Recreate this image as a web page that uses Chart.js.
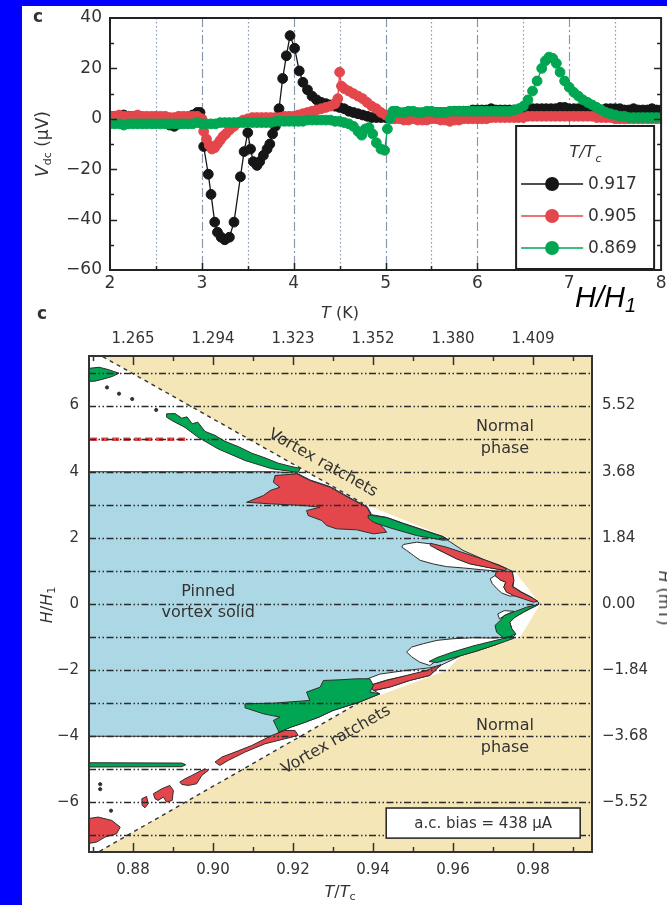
<!DOCTYPE html>
<html>
<head>
<meta charset="utf-8">
<title>Vortex ratchets</title>
<script src="https://cdn.jsdelivr.net/npm/chart.js@4.4.1/dist/chart.umd.min.js"></script>
<style>
  html, body { margin: 0; padding: 0; }
  body { width: 667px; height: 905px; background: #0000ff; position: relative; overflow: hidden; font-family: "DejaVu Sans", sans-serif; }
  #sheet { position: absolute; left: 22px; top: 6px; width: 645px; height: 899px; background: #fff; }
  canvas { position: absolute; left: 22px; }
  #volt { top: 6px; }
  #phase { top: 296px; }
  .t { position: absolute; transform: translate(-50%, -50%); white-space: nowrap; color: #333; font-size: 16px; line-height: 1; }
  .up { transform: translate(-50%, -50%) rotate(-90deg); }
  .down { transform: translate(-50%, -50%) rotate(90deg); }
  .panel { font-weight: bold; font-size: 17px; }
  sub { font-size: 11px; vertical-align: -3px; line-height: 0; }
  #hh { position: absolute; left: 575px; top: 283px; font: italic 29px "Liberation Sans", Arial, sans-serif; color: #000; line-height: 1; white-space: nowrap; }
  #hh span { font-size: 20px; position: relative; top: 5px; }
</style>
</head>
<body>
<div id="sheet"></div>
<canvas id="volt" width="645" height="290"></canvas>
<canvas id="phase" width="645" height="609"></canvas>

<div class="t panel" style="left:38px;top:16px">c</div>
<div class="t panel" style="left:42px;top:313px">c</div>
<div class="t up" style="left:42px;top:144px;font-size:17px"><i>V</i><sub>dc</sub> (μV)</div>
<div id="hh">H/H<span>1</span></div>
<div class="t" style="left:340px;top:313px"><i>T</i> (K)</div>
<div class="t" style="left:340px;top:892px"><i>T</i>/<i>T</i><sub>c</sub></div>
<div class="t up" style="left:47px;top:605px"><i>H</i>/<i>H</i><sub>1</sub></div>
<div class="t down" style="left:664px;top:598px"><i>H</i> (mT)</div>

<script>
const FONT = '"DejaVu Sans", sans-serif';

// ---- top panel: V_dc against H/H1 ----
const voltTicksX = [2, 3, 4, 5, 6, 7, 8];
const voltLabelsX = ['2', '3', '4', '5', '6', '7', '8'];
const voltTicksY = [-60, -40, -20, 0, 20, 40];
const voltLabelsY = ['−60', '−40', '−20', '0', '20', '40'];
const voltGridX = [2.5, 3, 3.5, 4, 4.5, 5, 5.5, 6, 6.5, 7, 7.5];
const voltMarksY = [-50, -40, -30, -20, -10, 0, 10, 20, 30];

const tBlack = [2.00,2.05,2.10,2.15,2.20,2.25,2.30,2.35,2.40,2.45,2.50,2.55,2.60,2.65,2.70,2.75,2.80,2.85,2.90,2.95,
  2.98,3.02,3.07,3.10,3.14,3.17,3.21,3.25,3.30,3.35,3.42,3.46,3.50,3.53,3.56,3.60,3.63,3.67,3.71,3.74,3.77,3.80,
  3.84,3.88,3.92,3.96,4.01,4.06,4.10,4.15,4.20,4.25,4.30,4.35,4.40,4.45,4.50,4.55,4.60,4.65,4.70,4.75,4.80,4.85,4.90,4.95,5.00,
  5.05,5.10,5.15,5.20,5.25,5.30,5.35,5.40,5.45,5.50,5.55,5.60,5.65,5.70,5.75,5.80,5.85,5.90,5.95,6.00,
  6.05,6.10,6.15,6.20,6.25,6.30,6.35,6.40,6.45,6.50,6.55,6.60,6.65,6.70,6.75,6.80,6.85,6.90,6.95,7.00,
  7.05,7.10,7.15,7.20,7.25,7.30,7.35,7.40,7.45,7.50,7.55,7.60,7.65,7.70,7.75,7.80,7.85,7.90,7.95,8.00];
const vBlack = [1,1,1,1.5,1,1,1,0.5,0.5,0,0,-0.5,-1.5,-2.5,-3,-2,-0.5,0.5,1.5,2.5,
  2.5,-11,-22,-30,-41,-45,-47,-48,-47,-41,-23,-13,-5.5,-12,-17,-18.5,-17,-14.5,-12,-10,-6,-3,
  4,16,25,33,28,19,14.5,11.5,9,7.5,6.5,6,5.5,5,4.5,4,3,2.5,2,1.5,1,0.5,0.5,0.5,0.5,
  1,1,1.5,1.5,1.5,2,2,2,2,2,2.5,2.5,2.5,2.5,3,3,3,3,3.5,3.5,
  3.5,3.5,4,3.5,3.5,3.5,3.5,3.5,3.5,3.5,4,4,4,4,4,4,4,4.5,4.5,4,
  4,4,4,4,4,4,3.5,4,4,4,4,3.5,3.5,4,3.5,3.5,3.5,4,3.5,3.5];

const tRed = [2.00,2.05,2.10,2.15,2.20,2.25,2.30,2.35,2.40,2.45,2.50,2.55,2.60,2.65,2.70,2.75,2.80,2.85,2.90,2.95,
  3.00,3.02,3.05,3.08,3.11,3.14,3.17,3.20,3.23,3.26,3.30,3.35,3.40,3.45,3.50,
  3.55,3.60,3.65,3.70,3.75,3.80,3.85,3.90,3.95,4.00,4.05,4.10,4.15,4.20,4.25,4.30,4.35,4.40,4.45,
  4.48,4.50,4.52,4.55,4.60,4.65,4.70,4.75,4.80,4.85,4.90,4.95,5.00,
  5.05,5.10,5.15,5.20,5.25,5.30,5.35,5.40,5.45,5.50,5.55,5.60,5.65,5.70,5.75,5.80,5.85,5.90,5.95,6.00,
  6.05,6.10,6.15,6.20,6.25,6.30,6.35,6.40,6.45,6.50,6.55,6.60,6.65,6.70,6.75,6.80,6.85,6.90,6.95,7.00,
  7.05,7.10,7.15,7.20,7.25,7.30,7.35,7.40,7.45,7.50,7.55,7.60,7.65,7.70,7.75,7.80,7.85,7.90,7.95,8.00];
const vRed = [1,1,1.5,1,1,1,1.5,1,1,1,1,1,1,0.5,0.5,1,1,1,1,1,
  0,-5,-8,-10.5,-12,-11.5,-10,-8.5,-7,-6,-4.5,-3,-1.5,-0.5,0,
  0.5,0.5,0.5,0.5,0.5,0.5,0.5,1,1,1,1.5,2,2.5,3,3.5,4,4.5,5,6,
  8,18.5,13,12,11,10,9,8,6.5,5,4,2.5,1.5,
  0.5,0,0,-0.5,-0.5,0,-0.5,-0.5,-0.5,0,0,-0.5,-0.5,-1,-0.5,-0.5,0,0,0,0,
  0,0,0.5,0.5,0.5,0.5,0.5,0.5,0.5,0.5,1,1,1,1,1,1,1,1,1,1,
  1,1,1,1,1,0.5,0.5,0.5,0.5,0,0,0,0,0,0,0,0,0,0,0];

const tGreen = [2.00,2.05,2.10,2.15,2.20,2.25,2.30,2.35,2.40,2.45,2.50,2.55,2.60,2.65,2.70,2.75,2.80,2.85,2.90,2.95,
  3.00,3.05,3.10,3.15,3.20,3.25,3.30,3.35,3.40,3.45,3.50,3.55,3.60,3.65,3.70,3.75,3.80,3.85,3.90,3.95,
  4.00,4.05,4.10,4.15,4.20,4.25,4.30,4.35,4.40,4.45,4.50,4.55,4.60,4.65,4.70,
  4.74,4.78,4.82,4.86,4.90,4.95,4.99,5.02,5.05,5.08,5.12,
  5.15,5.20,5.25,5.30,5.35,5.40,5.45,5.50,5.55,5.60,5.65,5.70,5.75,5.80,5.85,5.90,5.95,6.00,
  6.05,6.10,6.15,6.20,6.25,6.30,6.35,6.40,6.45,6.50,
  6.55,6.60,6.65,6.70,6.74,6.78,6.82,6.86,6.90,6.95,
  7.00,7.05,7.10,7.15,7.20,7.25,7.30,7.35,7.40,7.45,7.50,7.55,7.60,7.65,7.70,7.75,7.80,7.85,7.90,7.95,8.00];
const vGreen = [-2,-2,-2,-2.5,-2,-2,-2,-2,-2,-2,-2,-2,-2,-2,-2,-2,-2,-2,-2,-1.5,
  -2,-2,-2,-2,-1.5,-1.5,-1.5,-1.5,-1.5,-1.5,-1.5,-1.5,-1.5,-1.5,-1.5,-1.5,-1,-1,-1,-1,
  -1,-1,-1,-0.5,-0.5,-0.5,-0.5,-0.5,-0.5,-1,-1,-1.5,-2,-3,-5,
  -6.5,-4,-3.5,-6,-9.5,-12,-12.5,-4,0,3,3,
  2.5,2.5,3,3,2.5,2.5,3,3,2.5,2.5,2.5,3,3,3,3,3,3,3,
  3,3,3,3,3,3,3,3.5,4,5,
  7.5,11,15,20,23,24.5,24,22,18.5,15,
  12.5,10.5,9,7.5,6.5,5.5,4.5,3.5,2.5,2,1.5,1,1,0.5,0.5,0.5,0.5,0.5,0.5,0.5,0.5];

// ---- bottom panel: H/H1 against T/Tc ----
const ratioTicks = [0.88, 0.90, 0.92, 0.94, 0.96, 0.98];
const ratioLabels = ['0.88', '0.90', '0.92', '0.94', '0.96', '0.98'];
const kelvinLabels = ['1.265', '1.294', '1.323', '1.352', '1.380', '1.409'];
const ratioMinor = [0.87, 0.89, 0.91, 0.93, 0.95, 0.97, 0.99];
const fieldTicks = [-6, -4, -2, 0, 2, 4, 6];
const fieldLabels = ['−6', '−4', '−2', '0', '2', '4', '6'];
const mTLabels = ['−5.52', '−3.68', '−1.84', '0.00', '1.84', '3.68', '5.52'];
const phaseGridH = [-7, -6, -5, -4, -3, -2, -1, 0, 1, 2, 3, 4, 5, 6, 7];

const normalPhase = [[0.8707,7.6],[0.9960,7.6],[0.9960,-7.6],[0.8699,-7.6],[0.9222,-3.975],[0.9363,-3.0],
  [0.9585,-2.0],[0.9617,-1.6],[0.9768,-1.0],[0.9818,0],[0.9755,0.98],[0.9722,1.16],[0.9692,1.31],[0.9642,1.52],
  [0.9598,1.72],[0.9593,1.98],[0.9375,3.04]];
const pinnedSolid = [[0.8685,4.0],[0.9150,4.0],[0.9209,3.96],[0.9243,3.75],[0.9293,3.55],[0.9322,3.35],[0.9352,3.15],
  [0.9385,2.95],[0.9397,2.7],[0.9434,2.62],[0.9476,2.44],[0.9526,2.24],[0.9576,2.04],[0.9588,1.92],[0.9625,1.62],
  [0.9680,1.33],[0.9715,1.18],[0.9735,1.07],[0.9748,0.99],[0.9752,0.71],[0.9750,0.53],[0.9772,0.36],[0.9797,0.2],
  [0.9814,0.05],[0.9814,-0.02],[0.9797,-0.12],[0.9776,-0.25],[0.9755,-0.4],[0.9742,-0.55],[0.9747,-0.75],
  [0.9757,-0.92],[0.9748,-1.02],[0.9705,-1.24],[0.9660,-1.42],[0.9620,-1.56],[0.9572,-1.84],[0.9562,-1.93],
  [0.9542,-2.16],[0.9492,-2.31],[0.9442,-2.51],[0.9403,-2.62],[0.9417,-2.72],[0.9366,-2.97],[0.9300,-3.22],
  [0.9265,-3.42],[0.9220,-3.62],[0.9195,-3.72],[0.9165,-3.88],[0.9150,-4.0],[0.8685,-4.0]];

const whiteA = [[0.9476,1.80],[0.9509,1.87],[0.9543,1.82],[0.9559,1.67],[0.9584,1.52],[0.9609,1.37],[0.9642,1.22],
  [0.9692,1.10],[0.9730,1.02],[0.9715,0.99],[0.9668,1.04],[0.9626,1.09],[0.9584,1.13],[0.9551,1.21],[0.9518,1.32],
  [0.9501,1.47],[0.9484,1.62],[0.9472,1.72]];
const whiteB = [[0.9705,0.86],[0.9693,0.76],[0.9698,0.62],[0.9710,0.46],[0.9722,0.33],[0.9742,0.24],[0.9758,0.25],
  [0.9734,0.36],[0.9727,0.51],[0.9732,0.66],[0.9718,0.73]];
const whiteC = [[0.9728,-0.2],[0.9752,-0.22],[0.9730,-0.34],[0.9716,-0.45],[0.9712,-0.3]];
const whiteD = [[0.9484,-1.45],[0.9497,-1.3],[0.9526,-1.2],[0.9560,-1.1],[0.9600,-1.05],[0.9650,-1.02],[0.9700,-1.03],
  [0.9742,-1.0],[0.9700,-1.15],[0.9650,-1.3],[0.9600,-1.5],[0.9560,-1.7],[0.9542,-1.86],[0.9517,-1.76],[0.9497,-1.6]];
const whiteE = [[0.9376,-2.31],[0.9417,-2.12],[0.9476,-2.02],[0.9542,-1.93],[0.9570,-1.85],[0.9542,-2.0],[0.9492,-2.15],
  [0.9434,-2.30],[0.9392,-2.46]];

const redA = [[0.9155,3.885],[0.9209,3.936],[0.9243,3.733],[0.9293,3.531],[0.9322,3.331],[0.9352,3.129],[0.9385,2.926],
  [0.9397,2.624],[0.9426,2.304],[0.9434,2.171],[0.9401,2.122],[0.9359,2.243],[0.9309,2.273],[0.9284,2.373],
  [0.9272,2.524],[0.9238,2.675],[0.9234,2.827],[0.9268,2.926],[0.9226,2.978],[0.9143,3.029],[0.9084,3.077],
  [0.9126,3.28],[0.9143,3.431],[0.9167,3.531],[0.9151,3.682]];
const redA2 = [[0.9543,1.839],[0.9584,1.718],[0.9634,1.517],[0.9684,1.315],[0.9715,1.164],[0.9735,1.063],[0.9730,1.013],
  [0.9692,1.093],[0.9642,1.214],[0.9609,1.365],[0.9584,1.516],[0.9559,1.668],[0.9543,1.768]];
const redB = [[0.9709,0.993],[0.9748,0.993],[0.9752,0.71],[0.9748,0.529],[0.9770,0.357],[0.9795,0.206],[0.9812,0.085],
  [0.9801,0.055],[0.9776,0.156],[0.9751,0.257],[0.9734,0.357],[0.9727,0.509],[0.9732,0.66],[0.9718,0.73],[0.9705,0.861]];
const redE = [[0.9392,-2.464],[0.9434,-2.313],[0.9484,-2.161],[0.9534,-2.01],[0.9570,-1.83],[0.9562,-1.93],[0.9542,-2.161],
  [0.9492,-2.313],[0.9442,-2.514],[0.9401,-2.615]];
const redH = [[0.9005,-4.782],[0.9022,-4.63],[0.9055,-4.479],[0.9097,-4.278],[0.9147,-3.975],[0.9180,-3.824],[0.9205,-3.824],
  [0.9213,-3.975],[0.9180,-4.076],[0.9130,-4.227],[0.9080,-4.479],[0.9038,-4.731],[0.9017,-4.883]];
const redI = [[0.8917,-5.386],[0.8930,-5.286],[0.8947,-5.185],[0.8963,-5.084],[0.8980,-4.983],[0.8988,-5.034],[0.8972,-5.185],
  [0.8959,-5.437],[0.8938,-5.487],[0.8922,-5.457]];
const redJ = [[0.8851,-5.739],[0.8872,-5.588],[0.8892,-5.487],[0.8901,-5.638],[0.8898,-5.94],[0.8884,-5.991],[0.8876,-5.84],
  [0.8863,-5.94],[0.8855,-5.89]];
const redK = [[0.8822,-5.89],[0.8834,-5.819],[0.8838,-6.041],[0.8830,-6.162],[0.8823,-6.092]];
const redL = [[0.8685,-6.495],[0.8713,-6.444],[0.8747,-6.545],[0.8768,-6.747],[0.8759,-6.948],[0.8730,-7.049],[0.8709,-7.2],
  [0.8685,-7.25]];

const greenTop = [[0.8685,7.12],[0.8715,7.16],[0.8735,7.1],[0.8765,6.98],[0.8748,6.88],[0.8725,6.8],[0.8705,6.74],[0.8685,6.73]];
const greenUpper = [[0.8884,5.75],[0.8905,5.76],[0.8922,5.62],[0.8935,5.66],[0.8948,5.45],[0.8962,5.5],[0.8980,5.22],
  [0.9005,5.1],[0.9030,4.92],[0.9065,4.75],[0.9097,4.56],[0.9130,4.42],[0.9163,4.26],[0.9195,4.16],[0.9218,4.1],
  [0.9213,3.98],[0.9147,4.09],[0.9080,4.34],[0.9013,4.69],[0.8963,5.04],[0.8930,5.34],[0.8897,5.55],[0.8884,5.65]];
const greenD2 = [[0.9388,2.69],[0.9434,2.615],[0.9476,2.43],[0.9526,2.23],[0.9576,2.03],[0.9590,1.94],[0.9575,1.93],
  [0.9509,2.07],[0.9443,2.30],[0.9401,2.47],[0.9388,2.6]];
const greenC = [[0.9812,-0.015],[0.9797,-0.116],[0.9776,-0.247],[0.9755,-0.398],[0.9742,-0.55],[0.9747,-0.751],[0.9757,-0.902],
  [0.9742,-0.983],[0.9726,-1.023],[0.9709,-0.852],[0.9705,-0.65],[0.9718,-0.5],[0.9728,-0.348],[0.9751,-0.247],[0.9784,-0.096]];
const greenD = [[0.9748,-0.98],[0.9700,-1.12],[0.9650,-1.27],[0.9600,-1.45],[0.9560,-1.62],[0.9540,-1.74],[0.9560,-1.77],
  [0.9600,-1.63],[0.9620,-1.56],[0.9660,-1.42],[0.9705,-1.24],[0.9752,-1.04]];
const greenF = [[0.9080,-3.018],[0.9151,-2.998],[0.9242,-2.917],[0.9234,-2.665],[0.9268,-2.514],[0.9276,-2.313],[0.9317,-2.292],
  [0.9359,-2.262],[0.9392,-2.262],[0.9401,-2.464],[0.9392,-2.665],[0.9417,-2.716],[0.9366,-2.967],[0.9300,-3.22],
  [0.9265,-3.421],[0.9220,-3.623],[0.9195,-3.724],[0.9165,-3.875],[0.9159,-3.724],[0.9151,-3.522],[0.9167,-3.421],
  [0.9126,-3.32],[0.9080,-3.139]];
const greenLow = [[0.8685,-4.80],[0.8922,-4.81],[0.8932,-4.86],[0.8922,-4.92],[0.8685,-4.93]];

const redDash = [[0.8693,4.98],[0.8935,4.98]];
const fluxDots = [[0.8735,6.55],[0.8765,6.36],[0.8798,6.2],[0.8858,5.87],[0.8718,-5.45],[0.8718,-5.6],[0.8745,-6.25]];
const ratchetUpper = [[0.8707,7.6],[0.9375,3.04]];
const ratchetLower = [[0.8699,-7.6],[0.9363,-3.0]];

// colours
const BLACK = '#161616', RED = '#e3474b', GREEN = '#00a651';
const BEIGE = '#f5e6b8', ICE = '#acd7e4', EDGE = '#2e2e2e';

const pts = arr => arr.map(p => ({x: p[0], y: p[1]}));

function series(label, xs, ys, color, order) {
    return {
        label: label,
        data: xs.map((x, i) => ({x: x, y: ys[i]})),
        borderColor: color,
        backgroundColor: color,
        pointBackgroundColor: color,
        pointBorderColor: color,
        pointBorderWidth: 1,
        pointRadius: 4.9,
        borderWidth: 1.3,
        tension: 0,
        fill: false,
        order: order
    };
}

function region(points, color, order, edge) {
    return {
        data: pts(points.concat([points[0]])),
        fill: 'shape',
        backgroundColor: color,
        borderColor: edge || 'rgba(0,0,0,0)',
        borderWidth: 1,
        pointRadius: 0,
        tension: 0,
        order: order
    };
}

function guide(points, color, width, dash, order) {
    return {
        data: pts(points),
        fill: false,
        borderColor: color,
        borderWidth: width,
        borderDash: dash,
        pointRadius: 0,
        tension: 0,
        order: order
    };
}

function fixSize(prop, size) {
    return scale => {
        scale[prop] = size;
        scale.paddingLeft = 0; scale.paddingRight = 0;
        scale.paddingTop = 0; scale.paddingBottom = 0;
    };
}

function setTicks(values) {
    return scale => { scale.ticks = values.map(v => ({value: v})); };
}

// grid, frame, inward ticks and in-plot legend of the top panel
const voltDecor = {
    id: 'voltDecor',
    beforeDatasetsDraw(chart) {
        const {ctx, chartArea: a, scales: {x}} = chart;
        ctx.save();
        ctx.strokeStyle = '#8a98ad';
        ctx.lineWidth = 1.2;
        voltGridX.forEach(v => {
            const px = Math.round(x.getPixelForValue(v)) + 0.5;
            ctx.setLineDash(Number.isInteger(v) ? [9, 3, 2, 3] : [1.5, 2.5]);
            ctx.beginPath();
            ctx.moveTo(px, a.top);
            ctx.lineTo(px, a.bottom);
            ctx.stroke();
        });
        ctx.restore();
    },
    afterDatasetsDraw(chart) {
        const {ctx, chartArea: a, scales: {x, y}} = chart;
        ctx.save();
        ctx.strokeStyle = '#222';
        ctx.lineWidth = 1.5;
        voltMarksY.forEach(v => {
            const py = Math.round(y.getPixelForValue(v)) + 0.5;
            const len = v % 20 === 0 ? 7 : 4;
            ctx.beginPath();
            ctx.moveTo(a.left, py); ctx.lineTo(a.left + len, py);
            ctx.moveTo(a.right, py); ctx.lineTo(a.right - len, py);
            ctx.stroke();
        });
        voltGridX.forEach(v => {
            const px = Math.round(x.getPixelForValue(v)) + 0.5;
            const len = Number.isInteger(v) ? 7 : 4;
            ctx.beginPath();
            ctx.moveTo(px, a.bottom); ctx.lineTo(px, a.bottom - len);
            ctx.stroke();
        });
        ctx.lineWidth = 2;
        ctx.strokeRect(a.left, a.top, a.width, a.height);
        ctx.restore();
    },
    afterDraw(chart) {
        const {ctx, chartArea: a} = chart;
        const w = 138, h = 143;
        const left = a.right - 7 - w, top = a.bottom - 1 - h;
        ctx.save();
        ctx.fillStyle = '#fff';
        ctx.fillRect(left, top, w, h);
        ctx.strokeStyle = '#1e1e1e';
        ctx.lineWidth = 2;
        ctx.strokeRect(left, top, w, h);

        // title T/Tc
        ctx.fillStyle = '#333';
        ctx.textBaseline = 'middle';
        ctx.textAlign = 'left';
        ctx.font = 'italic 16px ' + FONT;
        const mw = ctx.measureText('T/T').width;
        ctx.font = 'italic 11px ' + FONT;
        const sw = ctx.measureText('c').width;
        const tx = left + w / 2 - (mw + sw) / 2;
        ctx.font = 'italic 16px ' + FONT;
        ctx.fillText('T/T', tx, top + 27);
        ctx.font = 'italic 11px ' + FONT;
        ctx.fillText('c', tx + mw + 1, top + 33);

        chart.data.datasets.forEach((ds, i) => {
            const cy = top + 58 + 32 * i;
            ctx.strokeStyle = ds.borderColor;
            ctx.lineWidth = 1.6;
            ctx.beginPath();
            ctx.moveTo(left + 5, cy);
            ctx.lineTo(left + 67, cy);
            ctx.stroke();
            ctx.fillStyle = ds.backgroundColor;
            ctx.beginPath();
            ctx.arc(left + 36, cy, 7, 0, Math.PI * 2);
            ctx.fill();
            ctx.fillStyle = '#333';
            ctx.font = '17px ' + FONT;
            ctx.fillText(ds.label, left + 72, cy + 1);
        });
        ctx.restore();
    }
};

new Chart(document.getElementById('volt'), {
    type: 'line',
    data: {
        datasets: [
            series('0.917', tBlack, vBlack, BLACK, 3),
            series('0.905', tRed, vRed, RED, 2),
            series('0.869', tGreen, vGreen, GREEN, 1)
        ]
    },
    options: {
        responsive: false,
        animation: false,
        devicePixelRatio: 1,
        events: [],
        layout: {padding: {top: 12, right: 5, left: 0, bottom: 0}},
        plugins: {legend: {display: false}, tooltip: {enabled: false}},
        scales: {
            x: {
                type: 'linear', min: 2, max: 8,
                afterBuildTicks: setTicks(voltTicksX),
                afterFit: fixSize('height', 26),
                grid: {display: false, drawTicks: false},
                border: {display: false},
                ticks: {
                    padding: 3, color: '#333', font: {family: FONT, size: 17},
                    maxRotation: 0, minRotation: 0, autoSkip: false,
                    callback: (v, i) => voltLabelsX[i]
                }
            },
            y: {
                type: 'linear', min: -60, max: 40,
                afterBuildTicks: setTicks(voltTicksY),
                afterFit: fixSize('width', 88),
                grid: {display: false, drawTicks: false},
                border: {display: false},
                ticks: {
                    padding: 8, color: '#333', font: {family: FONT, size: 17},
                    autoSkip: false,
                    callback: (v, i) => voltLabelsY[i]
                }
            }
        }
    },
    plugins: [voltDecor]
});

// grid, labels and frame of the phase diagram
const phaseDecor = {
    id: 'phaseDecor',
    afterDatasetsDraw(chart) {
        const {ctx, chartArea: a, scales: {x, y}} = chart;
        const px = v => x.getPixelForValue(v);
        const py = v => y.getPixelForValue(v);
        ctx.save();
        ctx.beginPath();
        ctx.rect(a.left, a.top, a.width, a.height);
        ctx.clip();

        ctx.strokeStyle = '#2b2b2b';
        ctx.lineWidth = 1.4;
        ctx.setLineDash([7, 2.5, 1.5, 2.5, 1.5, 2.5]);
        phaseGridH.forEach(h => {
            const yy = Math.round(py(h)) + 0.5;
            ctx.beginPath();
            ctx.moveTo(a.left, yy);
            ctx.lineTo(a.right, yy);
            ctx.stroke();
        });
        ctx.setLineDash([]);

        ctx.fillStyle = '#333';
        ctx.font = '16px ' + FONT;
        ctx.textAlign = 'center';
        ctx.textBaseline = 'middle';
        const put = (text, vx, vy) => ctx.fillText(text, px(vx), py(vy));
        put('Normal', 0.973, 5.35);
        put('phase', 0.973, 4.69);
        put('Normal', 0.973, -3.69);
        put('phase', 0.973, -4.35);
        put('Pinned', 0.8988, 0.36);
        put('vortex solid', 0.8988, -0.27);

        const along = (line, text, vx, vy) => {
            const p0 = line[0], p1 = line[line.length - 1];
            const ang = Math.atan2(py(p1[1]) - py(p0[1]), px(p1[0]) - px(p0[0]));
            ctx.save();
            ctx.translate(px(vx), py(vy));
            ctx.rotate(ang);
            ctx.fillText(text, 0, 0);
            ctx.restore();
        };
        along(ratchetUpper, 'Vortex ratchets', 0.9275, 4.26);
        along(ratchetLower, 'Vortex ratchets', 0.9308, -4.11);

        const bx0 = px(0.9433), bx1 = px(0.9918), by0 = py(-6.17), by1 = py(-7.08);
        ctx.fillStyle = '#fff';
        ctx.fillRect(bx0, by0, bx1 - bx0, by1 - by0);
        ctx.strokeStyle = '#222';
        ctx.lineWidth = 1.5;
        ctx.strokeRect(bx0, by0, bx1 - bx0, by1 - by0);
        ctx.fillStyle = '#333';
        ctx.font = '15px ' + FONT;
        ctx.fillText('a.c. bias = 438 μA', (bx0 + bx1) / 2, (by0 + by1) / 2 + 1);
        ctx.restore();

        // inward ticks on top and bottom, then the frame
        ctx.save();
        ctx.strokeStyle = '#333';
        ctx.lineWidth = 1.5;
        const tick = (v, len) => {
            const xx = Math.round(px(v)) + 0.5;
            ctx.beginPath();
            ctx.moveTo(xx, a.bottom); ctx.lineTo(xx, a.bottom - len);
            ctx.moveTo(xx, a.top); ctx.lineTo(xx, a.top + len);
            ctx.stroke();
        };
        ratioTicks.forEach(v => tick(v, 9));
        ratioMinor.forEach(v => tick(v, 5));
        ctx.lineWidth = 2;
        ctx.strokeRect(a.left, a.top, a.width, a.height);
        ctx.restore();
    }
};

const axisFont = {family: FONT, size: 15};

new Chart(document.getElementById('phase'), {
    type: 'line',
    data: {
        datasets: [
            region(normalPhase, BEIGE, 20),
            region(pinnedSolid, ICE, 19, EDGE),
            region(whiteA, '#fff', 18, EDGE),
            region(whiteB, '#fff', 18, EDGE),
            region(whiteC, '#fff', 18, EDGE),
            region(whiteD, '#fff', 18, EDGE),
            region(whiteE, '#fff', 18, EDGE),
            region(redA, RED, 17, EDGE),
            region(redA2, RED, 17, EDGE),
            region(redB, RED, 17, EDGE),
            region(redE, RED, 17, EDGE),
            region(redH, RED, 17, EDGE),
            region(redI, RED, 17, EDGE),
            region(redJ, RED, 17, EDGE),
            region(redK, RED, 17, EDGE),
            region(redL, RED, 17, EDGE),
            region(greenTop, GREEN, 16, EDGE),
            region(greenUpper, GREEN, 16, EDGE),
            region(greenD2, GREEN, 16, EDGE),
            region(greenC, GREEN, 16, EDGE),
            region(greenD, GREEN, 16, EDGE),
            region(greenF, GREEN, 16, EDGE),
            region(greenLow, GREEN, 16, EDGE),
            {
                data: pts(fluxDots), showLine: false, pointRadius: 1.6,
                pointBackgroundColor: '#333', pointBorderColor: '#333', order: 15
            },
            guide(redDash, RED, 3.5, [7, 4], 14),
            guide(ratchetUpper, '#333', 1.4, [4, 4], 13),
            guide(ratchetLower, '#333', 1.4, [4, 4], 13)
        ]
    },
    options: {
        responsive: false,
        animation: false,
        devicePixelRatio: 1,
        events: [],
        layout: {padding: 0},
        plugins: {legend: {display: false}, tooltip: {enabled: false}},
        scales: {
            x: {
                type: 'linear', position: 'bottom', min: 0.869, max: 0.99475,
                afterBuildTicks: setTicks(ratioTicks),
                afterFit: fixSize('height', 53),
                grid: {display: false, drawTicks: false},
                border: {display: false},
                ticks: {padding: 9, color: '#333', font: axisFont, maxRotation: 0, minRotation: 0,
                    autoSkip: false, callback: (v, i) => ratioLabels[i]}
            },
            x2: {
                type: 'linear', position: 'top', min: 0.869, max: 0.99475,
                afterBuildTicks: setTicks(ratioTicks),
                afterFit: fixSize('height', 60),
                grid: {display: false, drawTicks: false},
                border: {display: false},
                ticks: {padding: 8, color: '#333', font: axisFont, maxRotation: 0, minRotation: 0,
                    autoSkip: false, callback: (v, i) => kelvinLabels[i]}
            },
            y: {
                type: 'linear', position: 'left', min: -7.5, max: 7.5,
                afterBuildTicks: setTicks(fieldTicks),
                afterFit: fixSize('width', 67),
                grid: {display: false, drawTicks: false},
                border: {display: false},
                ticks: {padding: 10, color: '#333', font: axisFont, autoSkip: false,
                    callback: (v, i) => fieldLabels[i]}
            },
            y2: {
                type: 'linear', position: 'right', min: -7.5, max: 7.5,
                afterBuildTicks: setTicks(fieldTicks),
                afterFit: fixSize('width', 75),
                grid: {display: false, drawTicks: false},
                border: {display: false},
                ticks: {padding: 10, color: '#333', font: axisFont, autoSkip: false,
                    callback: (v, i) => mTLabels[i]}
            }
        }
    },
    plugins: [phaseDecor]
});
</script>
</body>
</html>
